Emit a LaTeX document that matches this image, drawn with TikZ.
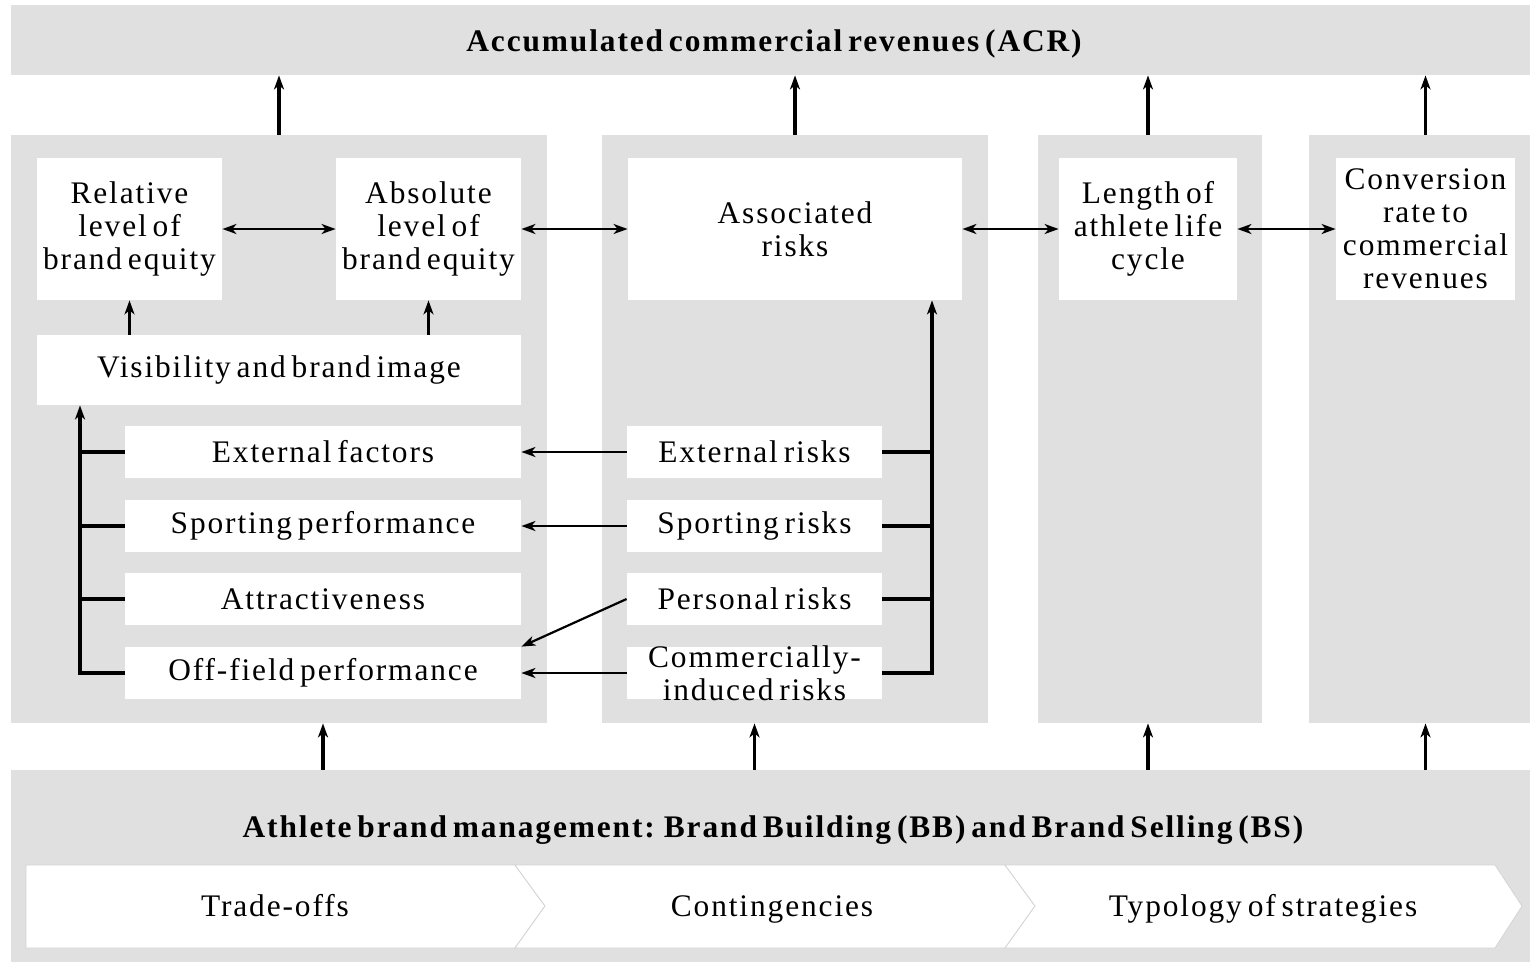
\documentclass[tikz,border=0pt]{standalone}
\usepackage{fontspec}
\setmainfont{Liberation Serif}[LetterSpace=6,WordSpace=0.6]
\usetikzlibrary{arrows.meta}
\definecolor{panelgray}{RGB}{224,224,224}
\definecolor{edgegray}{RGB}{212,212,212}
\newcommand{\dfont}{\fontsize{15.7pt}{16.5pt}\selectfont}

\begin{document}
\begin{tikzpicture}[x=0.5pt, y=-0.5pt, >={Stealth[length=7pt,width=5pt,inset=2pt]},
    panel/.style={fill=panelgray, inner sep=0pt},
    wbox/.style={fill=white, inner sep=1pt, align=center, font=\dfont},
    arr/.style={ultra thick, ->},
    harr/.style={line width=1.1pt, ->},
    dbl/.style={line width=1.1pt, <->},
    brk/.style={ultra thick}]

    \useasboundingbox[fill=white] (0,0) rectangle (1530,964);

    % gray frames
    \node[panel, minimum width=759.5pt, minimum height=35pt] (acr) at (770.5,40) {};
    \node[font=\dfont\bfseries, anchor=base] (acrt) at (774,51) {Accumulated commercial revenues (ACR)};
    \node[panel, minimum width=268pt, minimum height=294pt] (P1) at (279,429) {};
    \node[panel, minimum width=193pt, minimum height=294pt] (P2) at (795,429) {};
    \node[panel, minimum width=112pt, minimum height=294pt] (P3) at (1150,429) {};
    \node[panel, minimum width=110.5pt, minimum height=294pt] (P4) at (1419.5,429) {};
    \node[panel, minimum width=759.5pt, minimum height=96pt] (abm) at (770.5,866) {};

    % top row
    \node[wbox, minimum width=92.5pt, minimum height=71pt] (rel) at (129.5,229) {Relative\\level of\\brand equity};
    \node[wbox, minimum width=92.5pt, minimum height=71pt] (abs) at (428.5,229) {Absolute\\level of\\brand equity};
    \node[wbox, minimum width=167pt, minimum height=71pt] (assoc) at (795,229) {Associated\\risks};
    \node[wbox, minimum width=89pt, minimum height=71pt] (len) at (1148,229) {Length of\\athlete life\\cycle};
    \node[wbox, minimum width=89.5pt, minimum height=71pt] (conv) at (1425.5,229) {Conversion\\rate to\\commercial\\revenues};

    \node[wbox, minimum width=242pt, minimum height=35pt] (vis) at (279,370) {Visibility and brand image};

    % factors and risks
    \node[wbox, minimum width=198pt, minimum height=26pt] (ext) at (323,452) {External factors};
    \node[wbox, minimum width=198pt, minimum height=26pt] (spp) at (323,526) {Sporting performance};
    \node[wbox, minimum width=198pt, minimum height=26pt] (att) at (323,599) {Attractiveness};
    \node[wbox, minimum width=198pt, minimum height=26pt] (off) at (323,673) {Off-field performance};

    \node[wbox, minimum width=127.5pt, minimum height=26pt] (exr) at (754.5,452) {External risks};
    \node[wbox, minimum width=127.5pt, minimum height=26pt] (spr) at (754.5,526) {Sporting risks};
    \node[wbox, minimum width=127.5pt, minimum height=26pt] (per) at (754.5,599) {Personal risks};
    \node[wbox, minimum width=127.5pt, minimum height=26pt,
          label={[font=\dfont, align=center]center:Commercially-\\induced risks}] (cir) at (754.5,673) {};

    % bottom band
    \node[font=\dfont\bfseries, anchor=base] (abmt) at (773,837) {Athlete brand management: Brand Building (BB) and Brand Selling (BS)};
    \filldraw[fill=white, draw=edgegray] (26,865) -- (515,865) -- (545,906) -- (515,948) -- (26,948) -- cycle;
    \filldraw[fill=white, draw=edgegray] (515,865) -- (1005,865) -- (1035,906) -- (1005,948) -- (515,948) -- (545,906) -- cycle;
    \filldraw[fill=white, draw=edgegray] (1005,865) -- (1495,865) -- (1522,906) -- (1495,948) -- (1005,948) -- (1035,906) -- cycle;
    \node[font=\dfont, anchor=base] (tro) at (275,916) {Trade-offs};
    \node[font=\dfont, anchor=base] (cont) at (772,916) {Contingencies};
    \node[font=\dfont, anchor=base] (typ) at (1263,916) {Typology of strategies};

    % up to ACR
    \draw[arr] (vis |- P1.north) -- (vis |- acr.south);
    \draw[arr] (assoc |- P2.north) -- (assoc |- acr.south);
    \draw[arr] (len |- P3.north) -- (len |- acr.south);
    \draw[arr] (conv |- P4.north) -- (conv |- acr.south);

    % up from brand management
    \draw[arr] (ext |- abm.north) -- (ext |- P1.south);
    \draw[arr] (exr |- abm.north) -- (exr |- P2.south);
    \draw[arr] (len |- abm.north) -- (len |- P3.south);
    \draw[arr] (conv |- abm.north) -- (conv |- P4.south);

    % top row links
    \draw[dbl] (rel.east) -- (abs.west);
    \draw[dbl] (abs.east) -- (assoc.west);
    \draw[dbl] (assoc.east) -- (len.west);
    \draw[dbl] (len.east) -- (conv.west);
    \draw[harr] (rel |- vis.north) -- (rel.south);
    \draw[harr] (abs |- vis.north) -- (abs.south);

    % brackets
    \coordinate (lb) at (80,673);
    \coordinate (rb) at (932,673);
    \draw[brk, ->] (off.west) -| (lb |- vis.south);
    \foreach \n in {ext,spp,att} \draw[brk] (\n.west) -- (\n.west -| lb);
    \draw[brk, ->] (cir.east) -| (rb |- assoc.south);
    \foreach \n in {exr,spr,per} \draw[brk] (\n.east) -- (\n.east -| rb);

    % risks to factors
    \draw[harr] (exr.west) -- (ext.east);
    \draw[harr] (spr.west) -- (spp.east);
    \draw[harr] (per.west) -- (off.north east);
    \draw[harr] (cir.west) -- (off.east);

\end{tikzpicture}
\end{document}
